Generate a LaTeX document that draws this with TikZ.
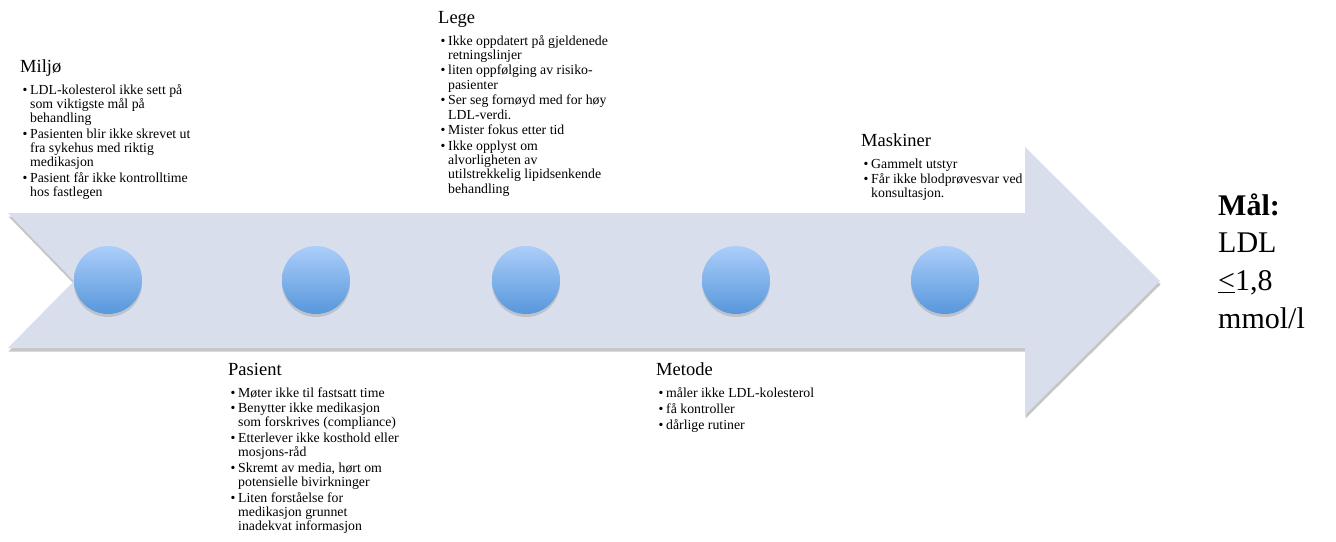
\documentclass[tikz,border=0pt]{standalone}
\usepackage{fontspec}
\setmainfont{Liberation Serif}
\usetikzlibrary{shadows}
\definecolor{arrowfill}{RGB}{217,222,236}
\definecolor{dottop}{RGB}{172,206,250}
\definecolor{dotbot}{RGB}{86,151,219}
\newcommand{\hd}[1]{\multicolumn{2}{@{}l@{}}{\fontsize{18.5}{20}\selectfont #1}}
\newcommand{\itm}{\textbullet}
\newcommand{\lst}[1]{\begin{tabular}[t]{@{\hspace{2.5pt}}p{7.5pt}@{}l@{}}#1\end{tabular}}

\begin{document}
\begin{tikzpicture}[x=1pt, y=-1pt, every node/.style={font=\fontsize{13.8}{14.2}\selectfont},
	dot/.style={circle, minimum size=68pt, inner sep=0pt, top color=dottop, bottom color=dotbot, drop shadow={shadow xshift=0pt, shadow yshift=-3pt, opacity=0.3}},
	blk/.style={inner sep=0pt, anchor=base west}]
	\useasboundingbox (0,0) rectangle (1336,541);
	% the big arrow
	\fill[arrowfill, drop shadow={shadow xshift=0.5pt, shadow yshift=-3.5pt, opacity=0.45}] (8,213) -- (1025,213) -- (1025,147) -- (1160,281) -- (1025,415) -- (1025,348) -- (8,348) -- (74,281) -- cycle;
	\node[dot] (d1) at (108,280) {};
	\node[dot] (d2) at (316,280) {};
	\node[dot] (d3) at (526,280) {};
	\node[dot] (d4) at (736,280) {};
	\node[dot] (d5) at (945,280) {};
	% causes above
	\node[blk] (miljo) at (20,72) {\lst{\hd{Miljø}\\[7.8pt]
		\itm & LDL-kolesterol ikke sett på\\
		& som viktigste mål på\\
		& behandling\\[1.5pt]
		\itm & Pasienten blir ikke skrevet ut\\
		& fra sykehus med riktig\\
		& medikasjon\\[1.5pt]
		\itm & Pasient får ikke kontrolltime\\
		& hos fastlegen}};
	\node[blk] (lege) at (438,23) {\lst{\hd{Lege}\\[7.8pt]
		\itm & Ikke oppdatert på gjeldenede\\
		& retningslinjer\\[1.5pt]
		\itm & liten oppfølging av risiko-\\
		& pasienter\\[1.5pt]
		\itm & Ser seg fornøyd med for høy\\
		& LDL-verdi.\\[1.5pt]
		\itm & Mister fokus etter tid\\[1.5pt]
		\itm & Ikke opplyst om\\
		& alvorligheten av\\
		& utilstrekkelig lipidsenkende\\
		& behandling}};
	\node[blk] (maskin) at (861,146) {\lst{\hd{Maskiner}\\[7.8pt]
		\itm & Gammelt utstyr\\[1.5pt]
		\itm & Får ikke blodprøvesvar ved\\
		& konsultasjon.}};
	% causes below
	\node[blk] (pasient) at (228,375) {\lst{\hd{Pasient}\\[7.8pt]
		\itm & Møter ikke til fastsatt time\\[1.5pt]
		\itm & Benytter ikke medikasjon\\
		& som forskrives (compliance)\\[1.5pt]
		\itm & Etterlever ikke kosthold eller\\
		& mosjons-råd\\[1.5pt]
		\itm & Skremt av media, hørt om\\
		& potensielle bivirkninger\\[1.5pt]
		\itm & Liten forståelse for\\
		& medikasjon grunnet\\
		& inadekvat informasjon}};
	\node[blk] (metode) at (656,375) {\lst{\hd{Metode}\\[7.8pt]
		\itm & måler ikke LDL-kolesterol\\[2pt]
		\itm & få kontroller\\[2pt]
		\itm & dårlige rutiner}};
	% goal
	\node[blk] (maal) at (1218,215) {\fontsize{30}{37.7}\selectfont\begin{tabular}[t]{@{}l@{}}
		\textbf{Mål:}\\
		LDL\\
		\underline{<}1,8\\
		mmol/l
	\end{tabular}};
\end{tikzpicture}
\end{document}
